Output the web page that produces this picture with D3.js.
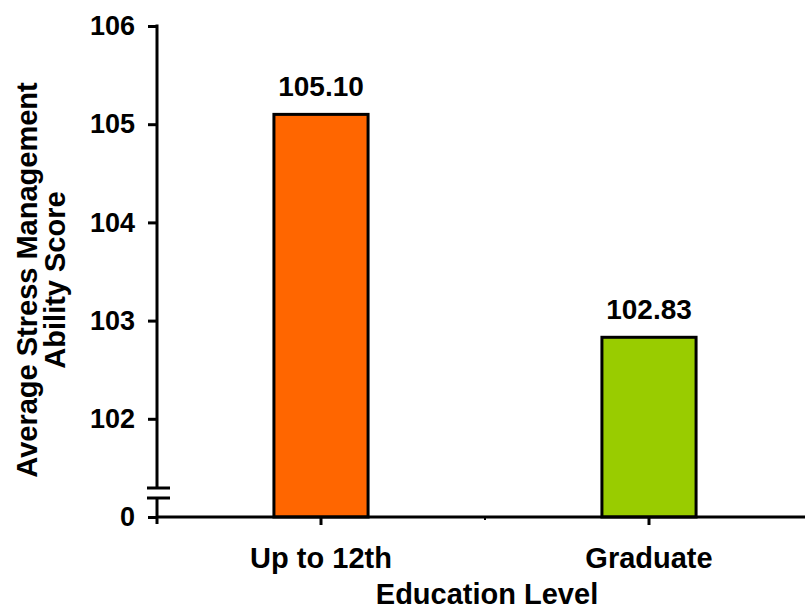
<!DOCTYPE html>
<html>
<head>
<meta charset="utf-8">
<script src="https://cdn.jsdelivr.net/npm/d3@7"></script>
<style>
  html, body { margin: 0; padding: 0; background: #fff; }
  svg { display: block; }
  text { font-family: "Liberation Sans", Arial, sans-serif; font-weight: bold; fill: #000; }
</style>
</head>
<body>
<svg id="chart" width="805" height="607"></svg>
<script>
// Education level groups and their mean scores
const categories = ["Up to 12th", "Graduate"];
const scores = [105.10, 102.83];
const barColors = ["#FF6600", "#99CC00"];

// Y axis: the lowest tick stands for zero across a broken axis
const yTickValues = [101, 102, 103, 104, 105, 106];
const yTickLabels = ["0", "102", "103", "104", "105", "106"];

const xTitle = "Education Level";
const yTitleLines = ["Average Stress Management", "Ability Score"];

const svg = d3.select("#chart");
const W = 805, H = 607;
const plotLeft = 157, plotRight = 813, plotTop = 26, plotBottom = 517;
const tickFont = 27, valueFont = 28, titleFont = 29;

const x = d3.scaleBand().domain(categories).range([plotLeft, plotRight]).padding(0);
const y = d3.scaleLinear().domain([101, 106]).range([plotBottom, plotTop]);
const barW = x.bandwidth() * 0.287;

// Bars
svg.append("g").selectAll("rect")
  .data(categories)
  .join("rect")
  .attr("x", (d) => x(d) + x.bandwidth() / 2 - barW / 2)
  .attr("y", (d, i) => y(scores[i]))
  .attr("width", barW)
  .attr("height", (d, i) => y(101) - y(scores[i]))
  .attr("fill", (d, i) => barColors[i])
  .attr("stroke", "#000")
  .attr("stroke-width", 3);

// Value labels
svg.append("g").selectAll("text")
  .data(categories)
  .join("text")
  .attr("x", (d) => x(d) + x.bandwidth() / 2)
  .attr("y", (d, i) => y(scores[i]) - 18)
  .attr("text-anchor", "middle")
  .attr("font-size", valueFont)
  .text((d, i) => scores[i].toFixed(2));

// Y axis
const yAxis = d3.axisLeft(y)
  .tickValues(yTickValues)
  .tickFormat((d, i) => yTickLabels[i])
  .tickSize(9)
  .tickPadding(13);
const gy = svg.append("g").attr("transform", `translate(${plotLeft},0)`).call(yAxis);
gy.select(".domain").remove();
gy.selectAll(".tick line").attr("stroke", "#000").attr("stroke-width", 3);
gy.selectAll(".tick text").attr("font-size", tickFont).attr("font-family", null);

// Axis spine with a break just above the zero tick
const breakTop = 488, breakBottom = 498;
svg.append("line").attr("x1", plotLeft).attr("x2", plotLeft).attr("y1", plotTop - 1.5).attr("y2", breakTop)
  .attr("stroke", "#000").attr("stroke-width", 3);
svg.append("line").attr("x1", plotLeft).attr("x2", plotLeft).attr("y1", breakBottom).attr("y2", plotBottom + 7)
  .attr("stroke", "#000").attr("stroke-width", 3);
[breakTop, breakBottom].forEach((by) => {
  svg.append("line").attr("x1", plotLeft - 10).attr("x2", plotLeft + 13).attr("y1", by).attr("y2", by)
    .attr("stroke", "#000").attr("stroke-width", 3);
});

// X axis
svg.append("line").attr("x1", plotLeft).attr("x2", W).attr("y1", plotBottom).attr("y2", plotBottom)
  .attr("stroke", "#000").attr("stroke-width", 3);
const gx = svg.append("g");
gx.selectAll("line.cat")
  .data(categories)
  .join("line")
  .attr("class", "cat")
  .attr("x1", (d) => x(d) + x.bandwidth() / 2)
  .attr("x2", (d) => x(d) + x.bandwidth() / 2)
  .attr("y1", plotBottom)
  .attr("y2", plotBottom + 8)
  .attr("stroke", "#000").attr("stroke-width", 3);
gx.selectAll("line.sep")
  .data(categories.slice(1))
  .join("line")
  .attr("class", "sep")
  .attr("x1", (d) => x(d))
  .attr("x2", (d) => x(d))
  .attr("y1", plotBottom)
  .attr("y2", plotBottom + 3)
  .attr("stroke", "#000").attr("stroke-width", 2);
gx.selectAll("text")
  .data(categories)
  .join("text")
  .attr("x", (d) => x(d) + x.bandwidth() / 2)
  .attr("y", 568)
  .attr("text-anchor", "middle")
  .attr("font-size", titleFont)
  .text((d) => d);

// Axis titles
svg.append("text")
  .attr("x", 487)
  .attr("y", 604)
  .attr("text-anchor", "middle")
  .attr("font-size", titleFont)
  .text(xTitle);

const yt = svg.append("text")
  .attr("transform", "translate(0,280) rotate(-90)")
  .attr("text-anchor", "middle")
  .attr("font-size", titleFont);
yTitleLines.forEach((line, i) => {
  yt.append("tspan").attr("x", 0).attr("y", 37 + i * 28).text(line);
});
</script>
</body>
</html>
